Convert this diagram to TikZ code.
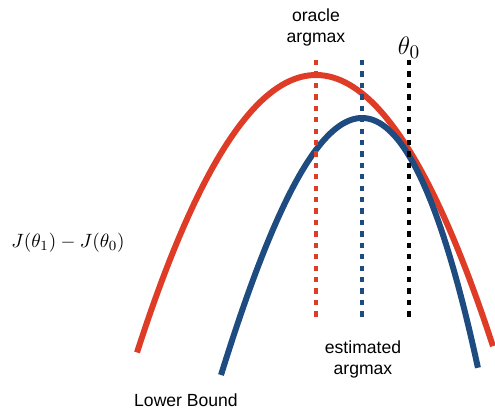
\documentclass[tikz,border=0pt]{standalone}
\usepackage{amsmath}
\usepackage{fontspec}
\setmainfont{Liberation Sans}
\usepackage{tikz}
\usetikzlibrary{calc}

\definecolor{oracleRed}{RGB}{222,60,38}
\definecolor{estBlue}{RGB}{30,76,128}

\begin{document}
\begin{tikzpicture}[
    x=0.02cm, y=-0.02cm, % pixel-like units, y pointing down
    font=\small,
    curve/.style={line width=3.4pt},
    marker/.style={line width=2pt, dash pattern=on 3pt off 3.5pt},
    lbl/.style={align=center, inner sep=0pt, font=\fontsize{10}{12}\selectfont}
]

    % === DEFINITIONS & COORDINATES ===
    \def\xOracle{316}  % peak of the true objective
    \def\xEst{362}     % peak of the lower bound
    \def\xThetaZero{409}
    \def\yTop{60}      % top of the dashed markers
    \def\yBot{322}     % bottom of the dashed markers

    \useasboundingbox (0,0) rectangle (495,409);

    % === 1. THE CURVES ===
    % Oracle objective (symmetric parabola)
    \draw[curve, oracleRed] plot[domain=-1.79:1.77, samples=90]
        ({\xOracle+100*\x}, {75+86.6*\x*\x});
    % Lower bound (narrower, steeper on the right)
    \draw[curve, estBlue] plot[domain=-1.41:1.16, samples=90]
        ({\xEst+100*\x}, {118+160.3*\x*\x+22*\x*\x*\x});

    % === 2. DASHED MARKERS ===
    \coordinate (OracleTop) at (\xOracle, \yTop);
    \coordinate (EstTop) at (\xEst, \yTop);
    \coordinate (ThetaTop) at (\xThetaZero, \yTop);
    \draw[marker, oracleRed] (OracleTop) -- (OracleTop |- 0,\yBot);
    \draw[marker, estBlue] (EstTop) -- (EstTop |- 0,\yBot);
    \draw[marker, black] (ThetaTop) -- (ThetaTop |- 0,\yBot);

    % === 3. LABELS ===
    \node[lbl] (oracle) at (316, 27) {oracle\\argmax};
    \node[inner sep=0pt, font=\fontsize{15}{15}\selectfont] (theta) at (409, 48) {$\theta_0$};
    \node[lbl] (estimated) at (363, 359) {estimated\\argmax};
    \node[lbl] (lower) at (186, 400) {Lower Bound};
    \node[inner sep=0pt, font=\fontsize{11}{11}\selectfont] (gap) at (68, 243) {$J(\theta_1) - J(\theta_0)$};

\end{tikzpicture}
\end{document}
